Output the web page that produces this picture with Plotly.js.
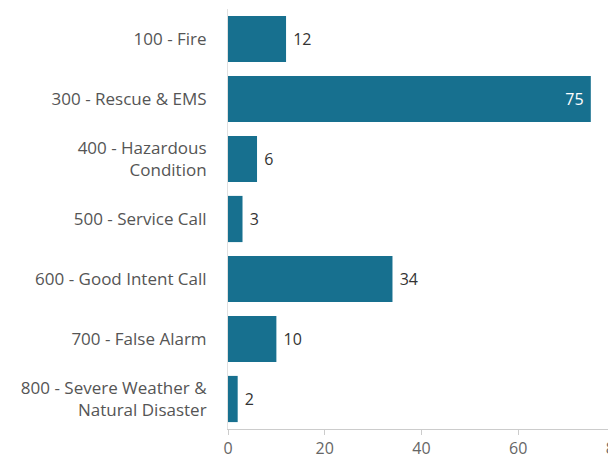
<!DOCTYPE html>
<html>
<head>
<meta charset="utf-8">
<script src="https://cdn.plot.ly/plotly-3.0.1.min.js"></script>
<style>
html,body{margin:0;padding:0;overflow:hidden;background:#fff;}
#chart{width:625px;height:459px;}
</style>
</head>
<body>
<div id="chart"></div>
<script>
const categories = [
  "100 - Fire",
  "300 - Rescue & EMS",
  "400 - Hazardous<br>Condition",
  "500 - Service Call",
  "600 - Good Intent Call",
  "700 - False Alarm",
  "800 - Severe Weather &<br>Natural Disaster"
];
const counts = [12, 75, 6, 3, 34, 10, 2];
const xTicks = [0, 20, 40, 60, 80];

const NB = '\u00a0';
const positions = counts.map(v => v >= 50 ? 'inside' : 'outside');
const labels = counts.map(v => v >= 50 ? String(v) + NB : NB + String(v));

const trace = {
  type: 'bar',
  orientation: 'h',
  y: categories,
  x: counts,
  text: labels,
  textposition: positions,
  insidetextanchor: 'end',
  constraintext: 'none',
  cliponaxis: false,
  marker: {color: '#17708f'},
  insidetextfont: {color: '#ffffff', size: 16, family: 'Open Sans'},
  outsidetextfont: {color: '#333333', size: 16, family: 'Open Sans'},
  hoverinfo: 'none'
};

const layout = {
  width: 625,
  height: 459,
  margin: {l: 228, r: 10, t: 9, b: 30},
  paper_bgcolor: '#ffffff',
  plot_bgcolor: '#ffffff',
  bargap: 0.23,
  showlegend: false,
  font: {family: 'Open Sans', size: 16, color: '#555555'},
  xaxis: {
    range: [0, 80],
    tickvals: xTicks,
    ticktext: xTicks.map(String),
    showgrid: false,
    zeroline: false,
    showline: true,
    linecolor: '#cccccc',
    linewidth: 1,
    ticks: 'outside',
    ticklen: 5,
    tickcolor: '#cccccc',
    tickfont: {color: '#666666', size: 16}
  },
  yaxis: {
    autorange: 'reversed',
    showgrid: false,
    zeroline: false,
    showline: true,
    linecolor: '#e0e0e0',
    ticks: 'outside',
    ticklen: 17,
    tickcolor: 'rgba(0,0,0,0)',
    tickfont: {color: '#555555', size: 17}
  }
};

Plotly.newPlot('chart', [trace], layout, {displayModeBar: false, staticPlot: true});
</script>
</body>
</html>
